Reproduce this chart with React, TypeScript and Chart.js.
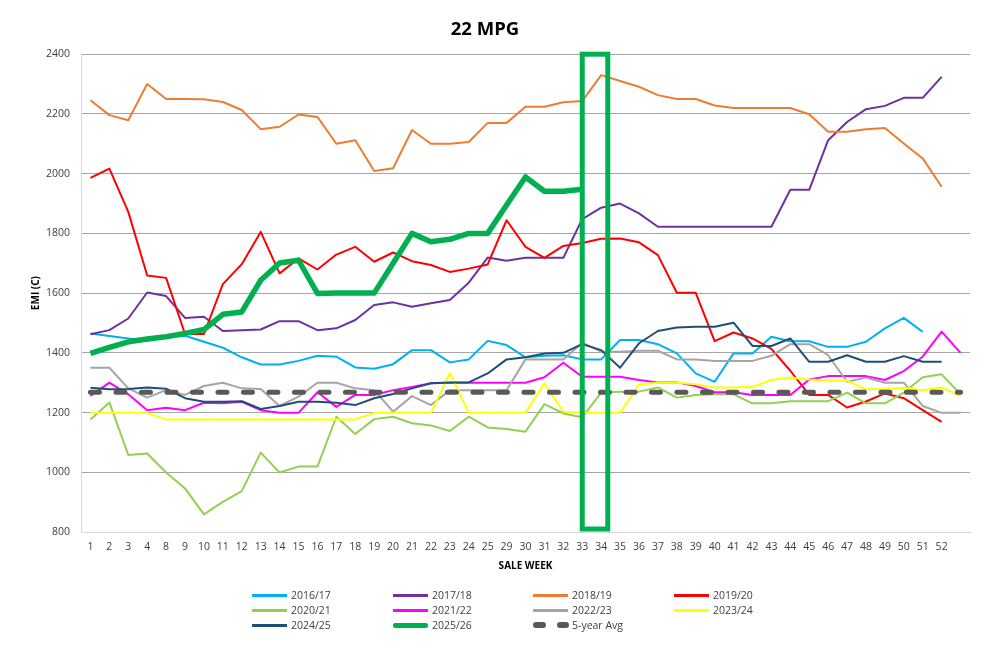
import React, { useEffect, useRef } from 'react';
import { Chart, registerables } from 'chart.js';

Chart.register(...registerables);

const weeks = ['1','2','3','4','8','9','10','11','12','13','14','15','16','17','18','19','20','21','22','23','24','25','29','30','31','32','33','34','35','36','37','38','39','40','41','42','43','44','45','46','47','48','49','50','51','52',''];

const s1617 = [1465,1456,1448,1440, 1452,1457,1437,1417,1385,1361,1361,1373,1390,1387,1351,1347,1362,1409,1409,1368,1378,1440, 1426,1385,1390,1392,1378,1378,1443,1443,1429,1398,1331,1303,1398,1398,1454,1439,1439,1420,1420,1437,1482,1517,1470,null, null];
const s1718 = [1462,1476,1515,1602, 1590,1517,1521,1473,1476,1478,1506,1506,1476,1482,1510,1560,1569,1554,1566,1577,1635,1719, 1708,1718,1718,1718,1848,1886,1900,1867,1822,1822,1822,1822,1822,1822,1822,1946,1946,2112,2173,2216,2227,2254,2254,2324, null];
const s1819 = [2246,2196,2179,2300, 2250,2250,2249,2240,2213,2149,2157,2198,2190,2100,2112,2009,2018,2146,2100,2100,2106,2170, 2170,2224,2224,2239,2243,2330,2310,2291,2263,2250,2250,2228,2220,2220,2220,2220,2199,2140,2140,2149,2153,2101,2051,1956, null];
const s1920 = [1986,2017,1872,1659, 1651,1463,1463,1630,1697,1805,1666,1716,1679,1729,1755,1705,1736,1707,1694,1671,1682,1696, 1844,1755,1718,1758,1768,1782,1783,1770,1727,1601,1601,1439,1468,1448,1413,1340,1259,1259,1217,1237,1264,1248,1208,1169, null];
const s2021 = [1177,1234,1058,1063, 999,946,859,901,937,1066,999,1019,1019,1186,1128,1178,1186,1164,1157,1138,1186,1150, 1145,1136,1228,1197,1184,1267,1270,1270,1284,1250,1259,1261,1261,1231,1231,1238,1238,1238,1267,1231,1231,1267,1318,1328, 1261];
const s2122 = [1256,1300,1261,1208, 1216,1208,1233,1231,1236,1208,1199,1199,1268,1219,1259,1259,1275,1286,1298,1300,1300,1300, 1300,1300,1318,1367,1320,1320,1320,1309,1301,1301,1289,1268,1268,1259,1259,1259,1311,1322,1322,1322,1309,1339,1387,1471, 1400];
const s2223 = [1350,1350,1281,1250, 1275,1259,1289,1300,1281,1279,1222,1253,1300,1300,1281,1275,1203,1255,1225,1275,1275,1275, 1275,1378,1378,1378,1434,1404,1404,1407,1407,1378,1378,1373,1373,1373,1390,1429,1429,1392,1303,1317,1300,1300,1222,1199, 1199];
const s2324 = [1199,1199,1199,1199, 1177,1177,1177,1177,1177,1177,1177,1177,1177,1177,1177,1199,1199,1199,1199,1333,1199,1199, 1199,1199,1298,1203,1199,1199,1199,1294,1300,1300,1295,1284,1284,1286,1309,1317,1311,1307,1307,1278,1278,1283,1275,1284, 1255];
const s2425 = [1283,1278,1279,1284, 1280,1248,1236,1236,1238,1212,1222,1236,1236,1233,1225,1248,1262,1281,1298,1301,1301,1331, 1378,1385,1398,1400,1429,1409,1350,1432,1473,1485,1487,1487,1501,1423,1423,1448,1370,1370,1392,1370,1370,1389,1370,1370, null];
const s2526 = [1398,1418,1437,1446, 1454,1465,1478,1529,1537,1643,1701,1710,1599,1600,1600,1600,1700,1800,1772,1780,1800,1800, 1895,1989,1941,1941,1948,null,null,null,null,null,null,null,null,null,null,null,null,null,null,null,null,null,null,null, null];
const avg5 = [1268,1268,1268,1268, 1268,1268,1268,1268,1268,1268,1268,1268,1268,1268,1268,1268,1268,1268,1268,1268,1268,1268, 1268,1268,1268,1268,1268,1268,1268,1268,1268,1268,1268,1268,1268,1268,1268,1268,1268,1268,1268,1268,1268,1268,1268,1268, 1268];

const seriesNames = ['2016/17','2017/18','2018/19','2019/20','2020/21','2021/22','2022/23','2023/24','2024/25','2025/26','5-year Avg'];
const seriesData = [s1617, s1718, s1819, s1920, s2021, s2122, s2223, s2324, s2425, s2526, avg5];
const seriesColors = ['#00B0F0','#7030A0','#ED7D31','#FF0000','#92D050','#FF00FF','#A5A5A5','#FFFF00','#1F4E79','#00B050','#595959'];

const yTicksMin = 800;
const yTicksMax = 2400;
const yTickStep = 200;
const boxWeeks = ['33', '34'];
const boxTop = 2400;
const boxBottom = 810;

const FONT = '"Open Sans", "DejaVu Sans", sans-serif';

const highlightPlugin = {
  id: 'highlightBox',
  afterDatasetsDraw(chart: any) {
    const xs = chart.scales.x;
    const ys = chart.scales.y;
    const i0 = weeks.indexOf(boxWeeks[0]);
    const i1 = weeks.indexOf(boxWeeks[1]);
    const left = xs.getPixelForValue(i0);
    const p1 = xs.getPixelForValue(i1);
    const right = p1 + (p1 - left) * 0.35;
    const top = ys.getPixelForValue(boxTop);
    const bottom = ys.getPixelForValue(boxBottom);
    const ctx = chart.ctx;
    ctx.save();
    ctx.strokeStyle = '#00B050';
    ctx.lineWidth = 5;
    ctx.lineJoin = 'miter';
    ctx.strokeRect(left, top, right - left, bottom - top);
    ctx.restore();
  },
};

const legendLefts = [252, 393, 533, 674];
const legendTops = [595, 610, 625];

function LegendSwatch({ idx }: { idx: number }) {
  const color = seriesColors[idx];
  if (idx === 10) {
    return (
      <span style={{ position: 'relative', display: 'inline-block', width: 35, height: 6 }}>
        <span style={{ position: 'absolute', left: 0, top: 0, width: 13, height: 6, borderRadius: 3, background: color }} />
        <span style={{ position: 'absolute', left: 24, top: 0, width: 12, height: 6, borderRadius: 3, background: color }} />
      </span>
    );
  }
  const thick = idx === 9 ? 5 : 3;
  return <span style={{ display: 'inline-block', width: 35, height: thick, background: color, borderRadius: idx === 9 ? 2 : 0 }} />;
}

function Legend() {
  return (
    <div>
      {seriesNames.map((name, i) => {
        const col = i % 4;
        const row = Math.floor(i / 4);
        return (
          <div
            key={name}
            style={{
              position: 'absolute',
              left: legendLefts[col],
              top: legendTops[row] - 8,
              height: 16,
              display: 'flex',
              alignItems: 'center',
              fontFamily: FONT,
              fontSize: 10.5,
              color: '#404040',
              whiteSpace: 'nowrap',
            }}
          >
            <LegendSwatch idx={i} />
            <span style={{ marginLeft: 4 }}>{name}</span>
          </div>
        );
      })}
    </div>
  );
}

export default function App() {
  const ref = useRef<HTMLCanvasElement>(null);

  useEffect(() => {
    if (!ref.current) return;
    const datasets = seriesNames.map((name, i) => {
      const isAvg = i === 10;
      const isCur = i === 9;
      return {
        label: name,
        data: seriesData[i],
        borderColor: seriesColors[i],
        backgroundColor: seriesColors[i],
        borderWidth: isAvg ? 5 : isCur ? 5.5 : 2,
        borderDash: isAvg ? [9, 16.5] : [],
        borderCapStyle: isAvg ? 'round' : 'butt',
        borderJoinStyle: 'round',
        pointRadius: 0,
        pointHoverRadius: 0,
        tension: 0,
        fill: false,
        spanGaps: false,
        order: isAvg ? 0 : 11 - i,
      };
    });

    const chart = new Chart(ref.current, {
      type: 'line',
      data: { labels: weeks, datasets: datasets as any },
      plugins: [highlightPlugin],
      options: {
        animation: false,
        responsive: false,
        devicePixelRatio: 1,
        layout: { padding: { left: 0, right: 17, top: 0, bottom: 70 } },
        plugins: {
          legend: { display: false },
          tooltip: { enabled: false },
          title: {
            display: true,
            text: '22 MPG',
            color: '#000000',
            font: { family: FONT, size: 18.5, weight: 'bold' },
            padding: { top: 19, bottom: 13 },
          },
        },
        scales: {
          x: {
            type: 'category',
            offset: true,
            grid: { display: false, drawTicks: false },
            border: { display: true, color: '#D9D9D9', width: 1 },
            ticks: {
              autoSkip: false,
              maxRotation: 0,
              minRotation: 0,
              padding: 8.5,
              color: '#404040',
              font: { family: FONT, size: 10.5 },
            },
            title: {
              display: true,
              text: 'SALE WEEK',
              color: '#000000',
              font: { family: FONT, size: 10, weight: 'bold' },
              padding: { top: 0, bottom: 6 },
            },
            afterFit: (scale: any) => { scale.height = 46; },
          },
          y: {
            min: yTicksMin,
            max: yTicksMax,
            ticks: {
              stepSize: yTickStep,
              padding: 11,
              color: '#404040',
              font: { family: FONT, size: 10.5 },
              callback: (v: any) => String(v),
            },
            grid: {
              drawTicks: false,
              color: (c: any) => (c.tick && c.tick.value === yTicksMin ? 'rgba(0,0,0,0)' : '#A6A6A6'),
              lineWidth: 1,
            },
            border: { display: true, color: '#D9D9D9', width: 1 },
            title: {
              display: true,
              text: 'EMI (C)',
              color: '#000000',
              font: { family: FONT, size: 10, weight: 'bold' },
              padding: { top: 30.5, bottom: 0 },
            },
            afterFit: (scale: any) => { scale.width = 81; },
          },
        },
      } as any,
    });
    return () => chart.destroy();
  }, []);

  return (
    <div style={{ position: 'absolute', left: 0, top: 0, width: 987, height: 648, background: '#ffffff', overflow: 'hidden' }}>
      <canvas ref={ref} width={987} height={648} style={{ display: 'block', width: 987, height: 648 }} />
      <Legend />
    </div>
  );
}
